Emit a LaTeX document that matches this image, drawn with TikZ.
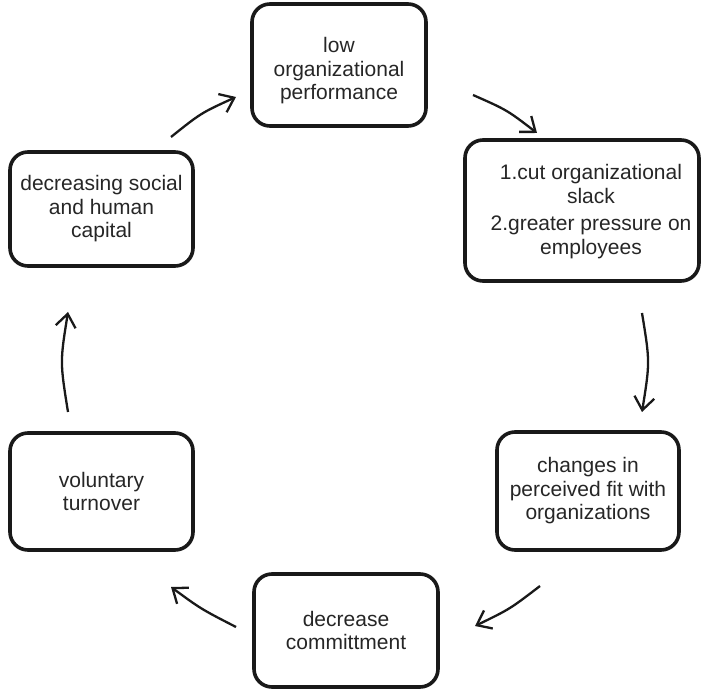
\documentclass[tikz,border=0pt]{standalone}
\usepackage{fontspec}
\setmainfont{Liberation Sans}
\usetikzlibrary{arrows.meta}
\begin{document}
\begin{tikzpicture}[x=1pt,y=-1pt,
  box/.style={draw=black!90, line width=3.6pt, rounded corners=18pt, align=center,
    font=\fontsize{21}{23.5}\selectfont, text=black!85, inner sep=0pt},
  boxtext/.style={align=center, font=\fontsize{21}{23.5}\selectfont, text=black!85, inner sep=0pt},
  cyc/.style={line width=2.3pt, draw=black!90,
    -{Straight Barb[length=13pt,width=20pt,line width=2.3pt]}}]
\useasboundingbox (0,0) rectangle (702,692);

\node[box, minimum width=174pt, minimum height=122pt,
  label={[boxtext, yshift=-6pt]center:{low\\organizational\\performance}}] (low) at (339,65) {};
\node[box, minimum width=234pt, minimum height=141pt,
  label={[boxtext, xshift=9pt, yshift=-1pt]center:{1.cut organizational\\slack\\[4pt]2.greater pressure on\\employees}}] (cut) at (582,210.5) {};
\node[box, minimum width=182pt, minimum height=118pt] (fit) at (588,491)
  {changes in\\perceived fit with\\organizations};
\node[box, minimum width=184pt, minimum height=113pt] (dec) at (346,630.5)
  {decrease\\committment};
\node[box, minimum width=183pt, minimum height=117pt] (vol) at (101.5,491.5)
  {voluntary\\turnover};
\node[box, minimum width=183pt, minimum height=114pt] (cap) at (101.5,209)
  {decreasing social\\and human\\capital};

\coordinate (s1) at (171,137); \coordinate (e1) at (236,97);
\coordinate (s2) at (473,95);  \coordinate (e2) at (537,133);
\coordinate (s3) at (642,313); \coordinate (e3) at (642,412);
\coordinate (s4) at (540,586); \coordinate (e4) at (475,626);
\coordinate (s5) at (236,627); \coordinate (e5) at (171,587);
\coordinate (s6) at (68,412);  \coordinate (e6) at (68,312);

\draw[cyc] (s1) .. controls (201,113) .. (e1);
\draw[cyc] (s2) .. controls (507,110) .. (e2);
\draw[cyc] (s3) .. controls (650,362) .. (e3);
\draw[cyc] (s4) .. controls (510,609) .. (e4);
\draw[cyc] (s5) .. controls (201,609) .. (e5);
\draw[cyc] (s6) .. controls (60,362) .. (e6);
\end{tikzpicture}
\end{document}
